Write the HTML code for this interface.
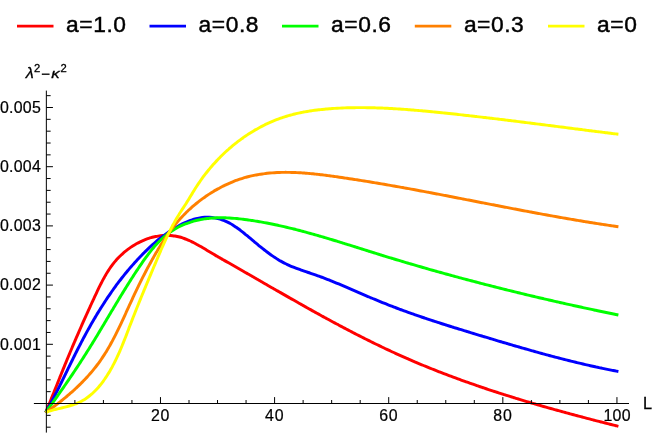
<!DOCTYPE html>
<html><head><meta charset="utf-8"><style>
html,body{margin:0;padding:0;background:#fff;}
svg{display:block;font-family:"Liberation Sans",sans-serif;}
g.t{filter:grayscale(1);}
text{fill:#000;stroke:#000;stroke-width:0.3px;}
text.lg{stroke-width:0.45px;}
text.tk{stroke-width:0.22px;}
</style></head><body>
<svg width="654" height="436" viewBox="0 0 654 436">
<rect width="654" height="436" fill="#fff"/>
<path d="M45.70,412.50C45.86,412.12 46.33,410.97 46.65,410.20C46.96,409.44 47.28,408.67 47.59,407.90C47.91,407.13 48.22,406.36 48.54,405.59C48.85,404.82 49.16,404.05 49.48,403.28C49.79,402.51 50.10,401.73 50.42,400.96C50.73,400.19 51.04,399.42 51.35,398.64C51.67,397.87 51.98,397.09 52.29,396.32C52.60,395.54 52.91,394.77 53.22,393.99C53.53,393.22 53.85,392.44 54.16,391.66C54.47,390.89 54.78,390.11 55.09,389.33C55.40,388.56 55.71,387.78 56.02,387.00C56.33,386.23 56.64,385.45 56.95,384.67C57.26,383.90 57.58,383.12 57.89,382.34C58.20,381.57 58.51,380.79 58.82,380.01C59.13,379.24 59.44,378.46 59.75,377.68C60.06,376.91 60.37,376.13 60.69,375.36C61.00,374.58 61.31,373.81 61.62,373.03C61.93,372.26 62.25,371.48 62.56,370.71C62.87,369.93 63.18,369.16 63.50,368.39C63.81,367.62 64.12,366.84 64.44,366.07C64.75,365.30 65.07,364.53 65.38,363.76C65.70,362.99 66.01,362.22 66.33,361.45C66.64,360.68 66.96,359.92 67.27,359.15C67.59,358.38 67.91,357.62 68.23,356.85C68.54,356.09 68.86,355.32 69.18,354.56C69.50,353.79 69.82,353.03 70.14,352.27C70.46,351.50 70.78,350.74 71.10,349.98C71.42,349.22 71.74,348.46 72.06,347.70C72.38,346.94 72.70,346.17 73.03,345.42C73.35,344.66 73.67,343.90 74.00,343.14C74.32,342.38 74.65,341.62 74.97,340.86C75.30,340.10 75.62,339.34 75.95,338.59C76.28,337.83 76.60,337.07 76.93,336.31C77.26,335.56 77.59,334.80 77.92,334.04C78.24,333.29 78.57,332.53 78.90,331.77C79.23,331.02 79.57,330.26 79.90,329.50C80.23,328.75 80.56,327.99 80.90,327.23C81.23,326.48 81.56,325.72 81.90,324.96C82.23,324.21 82.57,323.45 82.90,322.69C83.24,321.94 83.58,321.18 83.91,320.42C84.25,319.67 84.59,318.91 84.93,318.15C85.27,317.40 85.61,316.64 85.95,315.88C86.29,315.12 86.63,314.37 86.97,313.61C87.32,312.85 87.66,312.09 88.00,311.33C88.35,310.57 88.69,309.82 89.04,309.06C89.38,308.30 89.73,307.54 90.08,306.78C90.43,306.02 90.77,305.26 91.12,304.49C91.47,303.73 91.82,302.97 92.17,302.21C92.52,301.45 92.88,300.68 93.23,299.92C93.58,299.16 93.94,298.39 94.29,297.63C94.65,296.86 95.00,296.10 95.36,295.33C95.72,294.57 96.07,293.80 96.43,293.03C96.79,292.27 97.15,291.50 97.52,290.73C97.88,289.97 98.24,289.20 98.61,288.44C98.98,287.67 99.35,286.91 99.73,286.15C100.10,285.39 100.48,284.63 100.86,283.87C101.25,283.11 101.63,282.35 102.03,281.60C102.42,280.85 102.82,280.10 103.22,279.35C103.62,278.61 104.03,277.87 104.44,277.13C104.86,276.39 105.28,275.65 105.70,274.93C106.13,274.20 106.57,273.47 107.01,272.75C107.45,272.03 107.90,271.32 108.36,270.61C108.81,269.90 109.28,269.20 109.75,268.50C110.23,267.81 110.71,267.12 111.20,266.43C111.69,265.75 112.20,265.08 112.71,264.41C113.22,263.74 113.74,263.08 114.28,262.43C114.81,261.78 115.35,261.13 115.91,260.50C116.46,259.87 117.03,259.24 117.60,258.62C118.18,258.01 118.76,257.40 119.36,256.80C119.95,256.20 120.56,255.61 121.17,255.04C121.78,254.46 122.41,253.89 123.04,253.33C123.67,252.77 124.31,252.22 124.96,251.69C125.61,251.15 126.27,250.62 126.93,250.11C127.60,249.59 128.27,249.09 128.95,248.59C129.63,248.10 130.32,247.62 131.01,247.15C131.70,246.68 132.41,246.22 133.11,245.78C133.82,245.33 134.54,244.90 135.26,244.48C135.98,244.06 136.70,243.65 137.43,243.26C138.17,242.87 138.90,242.48 139.65,242.12C140.39,241.75 141.14,241.39 141.89,241.05C142.64,240.71 143.40,240.39 144.16,240.08C144.92,239.76 145.68,239.47 146.45,239.18C147.22,238.90 147.99,238.63 148.77,238.38C149.54,238.13 150.32,237.89 151.10,237.66C151.88,237.44 152.67,237.23 153.45,237.04C154.24,236.85 155.03,236.68 155.82,236.52C156.61,236.36 157.40,236.22 158.20,236.09C158.99,235.96 159.79,235.85 160.58,235.76C161.38,235.67 162.17,235.59 162.97,235.54C163.77,235.48 164.57,235.44 165.37,235.42C166.16,235.39 166.96,235.39 167.76,235.40C168.56,235.42 169.35,235.45 170.15,235.50C170.94,235.55 171.74,235.62 172.53,235.71C173.33,235.80 174.12,235.90 174.91,236.03C175.70,236.16 176.49,236.30 177.27,236.47C178.06,236.64 178.84,236.82 179.62,237.03C180.40,237.23 181.18,237.46 181.96,237.71C182.73,237.95 183.51,238.21 184.28,238.49C185.05,238.77 185.82,239.07 186.58,239.38C187.35,239.69 188.11,240.02 188.87,240.35C189.64,240.69 190.39,241.05 191.15,241.41C191.91,241.77 192.66,242.15 193.42,242.53C194.17,242.92 194.92,243.31 195.67,243.72C196.42,244.12 197.17,244.53 197.91,244.95C198.66,245.36 199.40,245.79 200.15,246.22C200.89,246.64 201.63,247.08 202.37,247.51C203.11,247.95 203.85,248.39 204.58,248.83C205.32,249.27 206.06,249.71 206.79,250.16C207.53,250.60 208.26,251.04 208.99,251.48C209.72,251.92 210.45,252.36 211.19,252.79C211.92,253.22 212.64,253.66 213.37,254.08C214.10,254.51 214.83,254.94 215.56,255.36C216.28,255.79 217.01,256.21 217.73,256.63C218.46,257.05 219.18,257.47 219.91,257.88C220.63,258.30 221.36,258.71 222.08,259.13C222.80,259.54 223.53,259.95 224.25,260.37C224.97,260.78 225.69,261.19 226.41,261.60C227.14,262.01 227.86,262.42 228.58,262.83C229.30,263.24 230.02,263.65 230.74,264.06C231.47,264.47 232.19,264.89 232.91,265.30C233.63,265.71 234.35,266.12 235.07,266.53C235.79,266.94 236.51,267.36 237.24,267.77C237.96,268.18 238.68,268.59 239.40,269.01C240.12,269.42 240.84,269.83 241.56,270.25C242.28,270.66 243.00,271.07 243.72,271.49C244.45,271.90 245.17,272.31 245.89,272.73C246.61,273.14 247.33,273.56 248.05,273.97C248.77,274.38 249.49,274.80 250.21,275.21C250.93,275.63 251.66,276.04 252.38,276.46C253.10,276.87 253.82,277.29 254.54,277.70C255.26,278.12 255.98,278.53 256.70,278.95C257.42,279.36 258.15,279.78 258.87,280.19C259.59,280.61 260.31,281.02 261.03,281.44C261.75,281.86 262.47,282.27 263.19,282.69C263.92,283.10 264.64,283.52 265.36,283.93C266.08,284.35 266.80,284.76 267.52,285.18C268.25,285.59 268.97,286.01 269.69,286.42C270.41,286.84 271.13,287.26 271.86,287.67C272.58,288.09 273.30,288.50 274.02,288.92C274.74,289.33 275.47,289.75 276.19,290.16C276.91,290.57 277.63,290.99 278.36,291.40C279.08,291.82 279.80,292.23 280.53,292.65C281.25,293.06 281.97,293.48 282.70,293.89C283.42,294.30 284.14,294.72 284.87,295.13C285.59,295.54 286.31,295.96 287.04,296.37C287.76,296.78 288.48,297.20 289.21,297.61C289.93,298.02 290.66,298.44 291.38,298.85C292.11,299.26 292.83,299.67 293.55,300.08C294.28,300.50 295.00,300.91 295.73,301.32C296.45,301.73 297.18,302.14 297.91,302.55C298.63,302.96 299.36,303.37 300.08,303.78C300.81,304.19 301.53,304.60 302.26,305.01C302.99,305.42 303.71,305.83 304.44,306.24C305.17,306.65 305.89,307.05 306.62,307.46C307.35,307.87 308.08,308.28 308.80,308.68C309.53,309.09 310.26,309.50 310.99,309.90C311.71,310.31 312.44,310.72 313.17,311.12C313.90,311.53 314.63,311.93 315.36,312.34C316.09,312.74 316.81,313.15 317.54,313.55C318.27,313.95 319.00,314.36 319.73,314.76C320.46,315.16 321.19,315.56 321.92,315.96C322.65,316.37 323.39,316.77 324.12,317.17C324.85,317.57 325.58,317.97 326.31,318.37C327.04,318.77 327.77,319.16 328.51,319.56C329.24,319.96 329.97,320.36 330.70,320.76C331.44,321.15 332.17,321.55 332.90,321.94C333.64,322.34 334.37,322.74 335.10,323.13C335.84,323.52 336.57,323.92 337.31,324.31C338.04,324.71 338.78,325.10 339.51,325.49C340.25,325.88 340.98,326.27 341.72,326.66C342.46,327.05 343.19,327.44 343.93,327.83C344.67,328.22 345.40,328.61 346.14,329.00C346.88,329.39 347.62,329.77 348.35,330.16C349.09,330.54 349.83,330.93 350.57,331.31C351.31,331.70 352.05,332.08 352.79,332.47C353.53,332.85 354.27,333.23 355.01,333.61C355.75,333.99 356.49,334.38 357.23,334.76C357.97,335.13 358.71,335.51 359.46,335.89C360.20,336.27 360.94,336.65 361.68,337.02C362.43,337.40 363.17,337.78 363.91,338.15C364.66,338.52 365.40,338.90 366.15,339.27C366.89,339.64 367.63,340.02 368.38,340.39C369.13,340.76 369.87,341.13 370.62,341.50C371.36,341.87 372.11,342.23 372.86,342.60C373.60,342.97 374.35,343.33 375.10,343.70C375.85,344.06 376.60,344.43 377.35,344.79C378.10,345.16 378.84,345.52 379.59,345.88C380.34,346.24 381.10,346.60 381.85,346.96C382.60,347.32 383.35,347.68 384.10,348.03C384.85,348.39 385.60,348.75 386.36,349.10C387.11,349.46 387.86,349.81 388.62,350.16C389.37,350.51 390.13,350.87 390.88,351.22C391.64,351.57 392.39,351.92 393.15,352.26C393.90,352.61 394.66,352.96 395.42,353.30C396.17,353.65 396.93,353.99 397.69,354.34C398.45,354.68 399.21,355.02 399.96,355.36C400.72,355.71 401.48,356.05 402.24,356.38C403.00,356.72 403.76,357.06 404.53,357.40C405.29,357.73 406.05,358.07 406.81,358.40C407.57,358.74 408.34,359.07 409.10,359.40C409.86,359.73 410.63,360.06 411.39,360.39C412.16,360.72 412.92,361.05 413.69,361.37C414.45,361.70 415.22,362.03 415.98,362.35C416.75,362.68 417.52,363.00 418.28,363.32C419.05,363.64 419.82,363.97 420.59,364.29C421.36,364.61 422.13,364.92 422.90,365.24C423.66,365.56 424.43,365.88 425.21,366.19C425.98,366.51 426.75,366.82 427.52,367.14C428.29,367.45 429.06,367.76 429.83,368.07C430.61,368.38 431.38,368.69 432.15,369.00C432.92,369.31 433.70,369.62 434.47,369.93C435.25,370.23 436.02,370.54 436.80,370.84C437.57,371.15 438.35,371.45 439.12,371.76C439.90,372.06 440.67,372.36 441.45,372.66C442.23,372.96 443.00,373.26 443.78,373.56C444.56,373.86 445.34,374.16 446.12,374.45C446.89,374.75 447.67,375.04 448.45,375.34C449.23,375.63 450.01,375.93 450.79,376.22C451.57,376.51 452.35,376.80 453.13,377.09C453.91,377.38 454.69,377.67 455.48,377.96C456.26,378.25 457.04,378.54 457.82,378.82C458.60,379.11 459.39,379.40 460.17,379.68C460.95,379.97 461.74,380.25 462.52,380.53C463.31,380.82 464.09,381.10 464.87,381.38C465.66,381.66 466.44,381.94 467.23,382.22C468.02,382.50 468.80,382.78 469.59,383.05C470.37,383.33 471.16,383.61 471.95,383.88C472.73,384.16 473.52,384.43 474.31,384.70C475.10,384.98 475.88,385.25 476.67,385.52C477.46,385.79 478.25,386.07 479.04,386.34C479.83,386.61 480.62,386.87 481.41,387.14C482.19,387.41 482.98,387.68 483.77,387.94C484.57,388.21 485.36,388.48 486.15,388.74C486.94,389.01 487.73,389.27 488.52,389.53C489.31,389.80 490.10,390.06 490.89,390.32C491.69,390.58 492.48,390.84 493.27,391.10C494.06,391.36 494.86,391.62 495.65,391.88C496.44,392.14 497.24,392.39 498.03,392.65C498.82,392.91 499.62,393.16 500.41,393.42C501.21,393.67 502.00,393.93 502.80,394.18C503.59,394.43 504.39,394.69 505.18,394.94C505.98,395.19 506.77,395.44 507.57,395.69C508.36,395.94 509.16,396.19 509.96,396.44C510.75,396.69 511.55,396.94 512.35,397.18C513.14,397.43 513.94,397.68 514.74,397.92C515.54,398.17 516.33,398.41 517.13,398.66C517.93,398.90 518.73,399.15 519.53,399.39C520.32,399.63 521.12,399.87 521.92,400.11C522.72,400.36 523.52,400.60 524.32,400.84C525.12,401.08 525.92,401.32 526.72,401.55C527.52,401.79 528.31,402.03 529.11,402.27C529.91,402.51 530.71,402.74 531.52,402.98C532.32,403.21 533.12,403.45 533.92,403.68C534.72,403.92 535.52,404.15 536.32,404.39C537.12,404.62 537.92,404.85 538.72,405.08C539.52,405.32 540.33,405.55 541.13,405.78C541.93,406.01 542.73,406.24 543.53,406.47C544.34,406.70 545.14,406.93 545.94,407.15C546.74,407.38 547.54,407.61 548.35,407.84C549.15,408.06 549.95,408.29 550.76,408.52C551.56,408.74 552.36,408.97 553.17,409.19C553.97,409.42 554.77,409.64 555.58,409.86C556.38,410.09 557.18,410.31 557.99,410.53C558.79,410.76 559.59,410.98 560.40,411.20C561.20,411.42 562.01,411.64 562.81,411.86C563.61,412.08 564.42,412.30 565.22,412.52C566.03,412.74 566.83,412.96 567.64,413.18C568.44,413.39 569.25,413.61 570.05,413.83C570.85,414.05 571.66,414.26 572.46,414.48C573.27,414.69 574.07,414.91 574.88,415.12C575.68,415.34 576.49,415.55 577.30,415.77C578.10,415.98 578.91,416.20 579.71,416.41C580.52,416.62 581.32,416.83 582.13,417.05C582.93,417.26 583.74,417.47 584.54,417.68C585.35,417.89 586.16,418.10 586.96,418.31C587.77,418.52 588.57,418.73 589.38,418.94C590.18,419.15 590.99,419.36 591.80,419.57C592.60,419.78 593.41,419.99 594.21,420.20C595.02,420.40 595.83,420.61 596.63,420.82C597.44,421.02 598.24,421.23 599.05,421.44C599.85,421.64 600.66,421.85 601.47,422.05C602.27,422.26 603.08,422.46 603.88,422.67C604.69,422.87 605.50,423.08 606.30,423.28C607.11,423.48 607.91,423.69 608.72,423.89C609.53,424.09 610.33,424.30 611.14,424.50C611.94,424.70 612.75,424.90 613.56,425.11C614.36,425.31 615.17,425.51 615.97,425.71C616.78,425.91 617.99,426.21 618.39,426.31" fill="none" stroke="#ff0000" stroke-width="2.95" stroke-linejoin="round"/>
<path d="M45.70,412.50C45.90,412.14 46.52,411.06 46.92,410.33C47.32,409.61 47.73,408.88 48.13,408.15C48.53,407.43 48.92,406.70 49.32,405.97C49.72,405.24 50.11,404.51 50.50,403.77C50.89,403.04 51.28,402.31 51.67,401.57C52.06,400.84 52.45,400.10 52.83,399.36C53.22,398.63 53.60,397.89 53.99,397.15C54.37,396.41 54.75,395.67 55.13,394.93C55.51,394.19 55.89,393.44 56.26,392.70C56.64,391.96 57.02,391.21 57.39,390.47C57.77,389.72 58.14,388.98 58.51,388.23C58.88,387.49 59.26,386.74 59.63,385.99C60.00,385.24 60.37,384.50 60.74,383.75C61.11,383.00 61.48,382.25 61.84,381.50C62.21,380.75 62.58,380.00 62.95,379.25C63.32,378.50 63.68,377.75 64.05,377.00C64.42,376.25 64.78,375.50 65.15,374.75C65.51,374.00 65.88,373.24 66.25,372.49C66.61,371.74 66.98,370.99 67.34,370.24C67.71,369.49 68.08,368.74 68.44,367.98C68.81,367.23 69.17,366.48 69.54,365.73C69.91,364.98 70.27,364.23 70.64,363.48C71.01,362.73 71.38,361.98 71.75,361.23C72.11,360.48 72.48,359.73 72.85,358.98C73.22,358.23 73.59,357.48 73.96,356.73C74.34,355.98 74.71,355.23 75.08,354.49C75.45,353.74 75.83,352.99 76.20,352.25C76.58,351.50 76.96,350.75 77.33,350.01C77.71,349.26 78.09,348.52 78.47,347.78C78.85,347.03 79.23,346.29 79.61,345.55C80.00,344.81 80.38,344.07 80.77,343.33C81.15,342.59 81.54,341.85 81.93,341.11C82.31,340.37 82.70,339.64 83.09,338.90C83.48,338.16 83.88,337.43 84.27,336.69C84.66,335.96 85.06,335.23 85.46,334.49C85.85,333.76 86.25,333.03 86.65,332.30C87.05,331.57 87.45,330.84 87.86,330.11C88.26,329.38 88.66,328.66 89.07,327.93C89.48,327.20 89.89,326.48 90.30,325.76C90.71,325.03 91.12,324.31 91.53,323.59C91.94,322.87 92.36,322.15 92.78,321.43C93.19,320.71 93.61,319.99 94.03,319.27C94.45,318.56 94.87,317.84 95.30,317.13C95.72,316.41 96.15,315.70 96.58,314.99C97.00,314.28 97.43,313.57 97.87,312.86C98.30,312.15 98.73,311.44 99.17,310.73C99.60,310.03 100.04,309.32 100.48,308.62C100.92,307.92 101.36,307.21 101.81,306.51C102.25,305.81 102.70,305.11 103.14,304.42C103.59,303.72 104.04,303.02 104.50,302.33C104.95,301.63 105.40,300.94 105.86,300.25C106.32,299.56 106.78,298.87 107.24,298.18C107.70,297.49 108.16,296.80 108.63,296.12C109.09,295.43 109.56,294.75 110.03,294.07C110.50,293.39 110.98,292.71 111.45,292.03C111.93,291.35 112.41,290.67 112.89,290.00C113.37,289.32 113.85,288.65 114.33,287.98C114.82,287.31 115.31,286.64 115.80,285.97C116.29,285.30 116.78,284.63 117.28,283.97C117.77,283.30 118.27,282.64 118.77,281.98C119.27,281.32 119.77,280.66 120.28,280.00C120.79,279.35 121.29,278.69 121.81,278.04C122.32,277.39 122.83,276.74 123.35,276.09C123.86,275.44 124.38,274.79 124.90,274.14C125.43,273.50 125.95,272.86 126.48,272.21C127.01,271.57 127.54,270.93 128.07,270.30C128.61,269.66 129.14,269.02 129.68,268.39C130.22,267.76 130.76,267.13 131.31,266.50C131.85,265.87 132.40,265.24 132.95,264.62C133.50,263.99 134.06,263.37 134.61,262.75C135.17,262.13 135.73,261.51 136.30,260.90C136.86,260.28 137.42,259.67 137.99,259.06C138.56,258.45 139.14,257.84 139.71,257.23C140.29,256.62 140.87,256.02 141.45,255.42C142.03,254.82 142.62,254.22 143.21,253.62C143.80,253.03 144.39,252.43 144.98,251.84C145.58,251.25 146.18,250.66 146.78,250.08C147.38,249.50 147.99,248.92 148.60,248.34C149.21,247.76 149.83,247.19 150.44,246.62C151.06,246.05 151.68,245.48 152.31,244.92C152.93,244.36 153.56,243.80 154.19,243.25C154.83,242.70 155.47,242.15 156.11,241.61C156.75,241.06 157.39,240.52 158.04,239.99C158.69,239.45 159.35,238.93 160.00,238.40C160.66,237.88 161.32,237.36 161.99,236.85C162.66,236.33 163.33,235.82 164.00,235.32C164.68,234.82 165.36,234.32 166.04,233.83C166.73,233.34 167.42,232.86 168.11,232.38C168.81,231.90 169.50,231.43 170.21,230.97C170.91,230.50 171.62,230.04 172.33,229.59C173.05,229.14 173.76,228.70 174.49,228.26C175.21,227.82 175.94,227.39 176.67,226.97C177.41,226.54 178.14,226.13 178.89,225.72C179.63,225.31 180.38,224.91 181.13,224.52C181.88,224.13 182.64,223.75 183.40,223.39C184.16,223.02 184.93,222.66 185.70,222.32C186.47,221.98 187.24,221.64 188.02,221.33C188.79,221.01 189.57,220.71 190.36,220.43C191.14,220.14 191.93,219.87 192.71,219.62C193.50,219.37 194.29,219.13 195.09,218.92C195.88,218.70 196.68,218.51 197.47,218.33C198.27,218.16 199.07,218.00 199.87,217.87C200.67,217.74 201.48,217.63 202.28,217.54C203.08,217.45 203.89,217.38 204.69,217.34C205.49,217.30 206.30,217.28 207.10,217.28C207.90,217.28 208.71,217.30 209.51,217.34C210.31,217.39 211.11,217.45 211.91,217.54C212.71,217.62 213.50,217.73 214.29,217.86C215.09,217.99 215.88,218.14 216.66,218.31C217.45,218.48 218.23,218.67 219.01,218.88C219.79,219.10 220.56,219.33 221.33,219.58C222.09,219.84 222.86,220.11 223.61,220.40C224.37,220.70 225.12,221.01 225.87,221.34C226.61,221.68 227.35,222.03 228.08,222.40C228.81,222.77 229.54,223.16 230.26,223.56C230.98,223.96 231.70,224.38 232.41,224.82C233.12,225.25 233.83,225.70 234.53,226.16C235.23,226.62 235.93,227.09 236.62,227.57C237.32,228.06 238.00,228.55 238.69,229.05C239.38,229.56 240.06,230.07 240.74,230.59C241.41,231.11 242.09,231.64 242.76,232.17C243.43,232.70 244.10,233.24 244.77,233.78C245.44,234.32 246.10,234.87 246.76,235.42C247.43,235.97 248.09,236.52 248.74,237.07C249.40,237.62 250.06,238.17 250.72,238.72C251.37,239.28 252.03,239.83 252.68,240.38C253.33,240.92 253.99,241.47 254.64,242.02C255.29,242.56 255.94,243.11 256.60,243.65C257.25,244.19 257.90,244.73 258.55,245.27C259.21,245.80 259.86,246.34 260.51,246.87C261.17,247.40 261.82,247.92 262.48,248.45C263.14,248.97 263.79,249.49 264.45,250.00C265.11,250.51 265.77,251.02 266.43,251.53C267.10,252.03 267.76,252.53 268.43,253.02C269.10,253.52 269.76,254.00 270.44,254.48C271.11,254.97 271.79,255.44 272.46,255.91C273.14,256.38 273.82,256.84 274.51,257.29C275.20,257.74 275.89,258.19 276.58,258.63C277.27,259.07 277.97,259.50 278.67,259.92C279.37,260.34 280.08,260.76 280.79,261.16C281.50,261.57 282.22,261.96 282.94,262.35C283.67,262.73 284.39,263.11 285.13,263.48C285.86,263.84 286.60,264.20 287.34,264.55C288.08,264.89 288.83,265.23 289.59,265.56C290.34,265.89 291.10,266.21 291.86,266.53C292.62,266.85 293.39,267.15 294.16,267.46C294.93,267.76 295.70,268.05 296.48,268.35C297.25,268.64 298.03,268.92 298.81,269.21C299.60,269.49 300.38,269.77 301.17,270.04C301.95,270.32 302.74,270.59 303.53,270.86C304.32,271.14 305.11,271.40 305.90,271.67C306.69,271.94 307.48,272.21 308.27,272.48C309.07,272.74 309.86,273.01 310.65,273.28C311.44,273.55 312.23,273.82 313.03,274.09C313.82,274.36 314.61,274.64 315.40,274.92C316.18,275.19 316.97,275.47 317.76,275.76C318.54,276.04 319.33,276.33 320.11,276.61C320.90,276.90 321.68,277.19 322.46,277.49C323.24,277.78 324.02,278.08 324.80,278.38C325.58,278.68 326.36,278.98 327.14,279.28C327.92,279.58 328.69,279.89 329.47,280.20C330.25,280.50 331.02,280.81 331.79,281.12C332.57,281.44 333.34,281.75 334.11,282.06C334.89,282.38 335.66,282.70 336.43,283.01C337.20,283.33 337.97,283.65 338.74,283.97C339.51,284.29 340.28,284.61 341.05,284.94C341.82,285.26 342.59,285.59 343.35,285.91C344.12,286.24 344.89,286.56 345.66,286.89C346.42,287.22 347.19,287.55 347.96,287.87C348.72,288.20 349.49,288.53 350.25,288.86C351.02,289.19 351.78,289.52 352.55,289.85C353.31,290.18 354.08,290.52 354.84,290.85C355.61,291.18 356.37,291.51 357.14,291.84C357.90,292.17 358.67,292.50 359.43,292.84C360.20,293.17 360.96,293.50 361.72,293.83C362.49,294.16 363.25,294.49 364.02,294.82C364.78,295.15 365.55,295.48 366.31,295.81C367.08,296.14 367.84,296.47 368.61,296.79C369.38,297.12 370.14,297.45 370.91,297.77C371.68,298.10 372.44,298.42 373.21,298.75C373.98,299.07 374.74,299.39 375.51,299.71C376.28,300.03 377.05,300.35 377.82,300.67C378.59,300.99 379.36,301.31 380.13,301.62C380.90,301.94 381.67,302.25 382.44,302.56C383.21,302.87 383.98,303.18 384.76,303.49C385.53,303.80 386.30,304.11 387.08,304.41C387.85,304.72 388.62,305.02 389.40,305.32C390.18,305.63 390.95,305.93 391.73,306.23C392.50,306.53 393.28,306.82 394.06,307.12C394.83,307.42 395.61,307.71 396.39,308.00C397.17,308.30 397.95,308.59 398.73,308.88C399.51,309.17 400.29,309.46 401.07,309.75C401.85,310.04 402.63,310.32 403.41,310.61C404.19,310.90 404.97,311.18 405.76,311.46C406.54,311.75 407.32,312.03 408.11,312.31C408.89,312.59 409.67,312.87 410.46,313.15C411.24,313.43 412.03,313.70 412.81,313.98C413.60,314.25 414.38,314.53 415.17,314.80C415.95,315.08 416.74,315.35 417.53,315.62C418.31,315.89 419.10,316.16 419.89,316.43C420.67,316.70 421.46,316.97 422.25,317.24C423.04,317.50 423.83,317.77 424.62,318.04C425.41,318.30 426.20,318.57 426.99,318.83C427.77,319.09 428.56,319.36 429.36,319.62C430.15,319.88 430.94,320.14 431.73,320.40C432.52,320.66 433.31,320.92 434.10,321.18C434.89,321.44 435.68,321.69 436.48,321.95C437.27,322.21 438.06,322.46 438.85,322.72C439.65,322.98 440.44,323.23 441.23,323.48C442.03,323.74 442.82,323.99 443.61,324.24C444.41,324.50 445.20,324.75 446.00,325.00C446.79,325.25 447.59,325.50 448.38,325.75C449.17,326.00 449.97,326.25 450.77,326.50C451.56,326.75 452.36,327.00 453.15,327.25C453.95,327.49 454.74,327.74 455.54,327.99C456.33,328.23 457.13,328.48 457.93,328.73C458.72,328.97 459.52,329.22 460.32,329.46C461.11,329.71 461.91,329.95 462.71,330.20C463.50,330.44 464.30,330.69 465.10,330.93C465.89,331.17 466.69,331.42 467.49,331.66C468.29,331.90 469.08,332.15 469.88,332.39C470.68,332.63 471.48,332.87 472.27,333.12C473.07,333.36 473.87,333.60 474.67,333.84C475.46,334.08 476.26,334.32 477.06,334.57C477.86,334.81 478.66,335.05 479.45,335.29C480.25,335.53 481.05,335.77 481.85,336.01C482.65,336.25 483.44,336.49 484.24,336.74C485.04,336.98 485.84,337.22 486.64,337.46C487.43,337.70 488.23,337.94 489.03,338.18C489.83,338.42 490.63,338.66 491.43,338.90C492.22,339.14 493.02,339.38 493.82,339.61C494.62,339.85 495.42,340.09 496.22,340.33C497.01,340.57 497.81,340.81 498.61,341.05C499.41,341.28 500.21,341.52 501.01,341.76C501.81,342.00 502.61,342.23 503.41,342.47C504.20,342.71 505.00,342.94 505.80,343.18C506.60,343.42 507.40,343.65 508.20,343.89C509.00,344.12 509.80,344.36 510.60,344.59C511.40,344.83 512.20,345.06 513.00,345.30C513.80,345.53 514.60,345.76 515.40,346.00C516.20,346.23 517.00,346.46 517.80,346.69C518.60,346.92 519.40,347.16 520.20,347.39C521.00,347.62 521.80,347.85 522.60,348.08C523.40,348.31 524.21,348.54 525.01,348.77C525.81,349.00 526.61,349.23 527.41,349.45C528.21,349.68 529.01,349.91 529.81,350.14C530.62,350.36 531.42,350.59 532.22,350.81C533.02,351.04 533.82,351.26 534.63,351.49C535.43,351.71 536.23,351.94 537.03,352.16C537.84,352.38 538.64,352.61 539.44,352.83C540.25,353.05 541.05,353.27 541.85,353.49C542.65,353.71 543.46,353.93 544.26,354.15C545.07,354.37 545.87,354.59 546.67,354.80C547.48,355.02 548.28,355.24 549.09,355.45C549.89,355.67 550.70,355.89 551.50,356.10C552.30,356.31 553.11,356.53 553.92,356.74C554.72,356.95 555.53,357.17 556.33,357.38C557.14,357.59 557.94,357.80 558.75,358.01C559.56,358.22 560.36,358.43 561.17,358.63C561.97,358.84 562.78,359.05 563.59,359.25C564.40,359.46 565.20,359.67 566.01,359.87C566.82,360.07 567.62,360.28 568.43,360.48C569.24,360.68 570.05,360.88 570.86,361.08C571.67,361.28 572.47,361.48 573.28,361.68C574.09,361.88 574.90,362.08 575.71,362.27C576.52,362.47 577.33,362.66 578.14,362.86C578.95,363.05 579.76,363.25 580.57,363.44C581.38,363.63 582.19,363.82 583.00,364.01C583.81,364.20 584.62,364.39 585.44,364.58C586.25,364.77 587.06,364.95 587.87,365.14C588.68,365.32 589.50,365.51 590.31,365.69C591.12,365.87 591.93,366.06 592.75,366.24C593.56,366.42 594.37,366.60 595.19,366.78C596.00,366.95 596.82,367.13 597.63,367.31C598.45,367.48 599.26,367.66 600.08,367.83C600.89,368.01 601.71,368.18 602.52,368.35C603.34,368.52 604.15,368.69 604.97,368.86C605.79,369.03 606.60,369.19 607.42,369.36C608.24,369.53 609.06,369.69 609.87,369.85C610.69,370.02 611.51,370.18 612.33,370.34C613.15,370.50 613.77,370.62 614.78,370.82C615.80,371.01 617.80,371.39 618.40,371.50" fill="none" stroke="#0000ff" stroke-width="2.95" stroke-linejoin="round"/>
<path d="M45.70,412.50C45.94,412.16 46.67,411.16 47.15,410.49C47.64,409.81 48.12,409.14 48.60,408.47C49.09,407.79 49.57,407.12 50.05,406.44C50.54,405.77 51.02,405.09 51.50,404.42C51.98,403.74 52.47,403.06 52.95,402.39C53.43,401.71 53.91,401.03 54.39,400.35C54.87,399.67 55.35,399.00 55.83,398.32C56.31,397.64 56.79,396.96 57.27,396.28C57.75,395.59 58.23,394.91 58.71,394.23C59.19,393.55 59.66,392.87 60.14,392.18C60.62,391.50 61.10,390.82 61.57,390.13C62.05,389.45 62.52,388.76 63.00,388.08C63.47,387.39 63.95,386.71 64.42,386.02C64.90,385.33 65.37,384.65 65.84,383.96C66.31,383.27 66.79,382.58 67.26,381.89C67.73,381.21 68.20,380.52 68.67,379.83C69.14,379.14 69.61,378.45 70.08,377.76C70.54,377.06 71.01,376.37 71.48,375.68C71.95,374.99 72.41,374.30 72.88,373.60C73.34,372.91 73.81,372.22 74.27,371.52C74.73,370.83 75.20,370.13 75.66,369.44C76.12,368.74 76.58,368.05 77.04,367.35C77.50,366.65 77.96,365.95 78.42,365.26C78.87,364.56 79.33,363.86 79.79,363.16C80.24,362.46 80.70,361.76 81.15,361.06C81.61,360.36 82.06,359.66 82.51,358.96C82.96,358.26 83.41,357.56 83.86,356.86C84.31,356.16 84.76,355.45 85.21,354.75C85.66,354.05 86.10,353.34 86.55,352.64C86.99,351.94 87.44,351.23 87.88,350.53C88.32,349.82 88.77,349.12 89.21,348.41C89.65,347.70 90.09,347.00 90.53,346.29C90.96,345.58 91.40,344.87 91.84,344.17C92.27,343.46 92.71,342.75 93.14,342.04C93.58,341.33 94.01,340.62 94.44,339.91C94.88,339.20 95.31,338.49 95.74,337.78C96.17,337.07 96.60,336.36 97.03,335.65C97.46,334.94 97.89,334.23 98.32,333.51C98.75,332.80 99.18,332.09 99.60,331.38C100.03,330.67 100.46,329.95 100.88,329.24C101.31,328.53 101.74,327.81 102.16,327.10C102.59,326.39 103.01,325.68 103.44,324.96C103.86,324.25 104.29,323.53 104.71,322.82C105.14,322.11 105.56,321.39 105.99,320.68C106.41,319.97 106.84,319.25 107.26,318.54C107.69,317.82 108.11,317.11 108.53,316.39C108.96,315.68 109.38,314.97 109.81,314.25C110.23,313.54 110.66,312.82 111.08,312.11C111.51,311.39 111.93,310.68 112.36,309.97C112.78,309.25 113.21,308.54 113.64,307.82C114.06,307.11 114.49,306.40 114.92,305.68C115.34,304.97 115.77,304.26 116.20,303.54C116.63,302.83 117.06,302.12 117.49,301.40C117.91,300.69 118.34,299.98 118.78,299.26C119.21,298.55 119.64,297.84 120.07,297.13C120.50,296.42 120.94,295.70 121.37,294.99C121.80,294.28 122.24,293.57 122.67,292.86C123.11,292.15 123.55,291.44 123.98,290.73C124.42,290.02 124.86,289.31 125.30,288.60C125.74,287.89 126.18,287.18 126.62,286.47C127.07,285.76 127.51,285.05 127.95,284.35C128.40,283.64 128.84,282.93 129.29,282.23C129.74,281.52 130.19,280.81 130.64,280.11C131.09,279.40 131.54,278.70 131.99,277.99C132.45,277.29 132.90,276.58 133.36,275.88C133.81,275.18 134.27,274.47 134.73,273.77C135.19,273.07 135.65,272.37 136.11,271.67C136.58,270.96 137.04,270.26 137.51,269.56C137.98,268.86 138.44,268.17 138.91,267.47C139.38,266.77 139.86,266.07 140.33,265.37C140.81,264.68 141.28,263.98 141.76,263.29C142.24,262.59 142.72,261.90 143.21,261.21C143.69,260.52 144.18,259.83 144.67,259.14C145.16,258.46 145.65,257.77 146.15,257.09C146.64,256.41 147.14,255.73 147.65,255.06C148.15,254.39 148.66,253.72 149.17,253.05C149.68,252.39 150.20,251.73 150.72,251.07C151.24,250.42 151.77,249.77 152.30,249.12C152.83,248.48 153.37,247.84 153.91,247.21C154.45,246.57 155.00,245.95 155.55,245.33C156.11,244.71 156.66,244.10 157.23,243.49C157.80,242.89 158.37,242.29 158.94,241.70C159.52,241.11 160.11,240.53 160.70,239.96C161.29,239.38 161.89,238.82 162.49,238.27C163.10,237.71 163.71,237.17 164.33,236.63C164.95,236.10 165.58,235.57 166.22,235.06C166.85,234.54 167.50,234.04 168.15,233.55C168.80,233.05 169.47,232.57 170.14,232.10C170.81,231.63 171.49,231.17 172.17,230.73C172.86,230.28 173.56,229.85 174.26,229.43C174.97,229.00 175.68,228.59 176.40,228.20C177.12,227.80 177.84,227.41 178.58,227.04C179.31,226.66 180.05,226.30 180.80,225.95C181.55,225.60 182.30,225.26 183.06,224.93C183.82,224.60 184.58,224.28 185.35,223.98C186.12,223.68 186.90,223.38 187.68,223.10C188.46,222.82 189.24,222.55 190.03,222.29C190.82,222.04 191.61,221.79 192.41,221.56C193.20,221.32 194.00,221.10 194.81,220.89C195.61,220.67 196.41,220.47 197.22,220.29C198.03,220.10 198.84,219.92 199.65,219.76C200.46,219.59 201.28,219.44 202.09,219.29C202.91,219.15 203.73,219.02 204.54,218.90C205.36,218.77 206.18,218.66 207.01,218.56C207.83,218.46 208.65,218.37 209.47,218.29C210.30,218.21 211.12,218.14 211.95,218.08C212.78,218.02 213.61,217.96 214.43,217.92C215.26,217.88 216.09,217.84 216.92,217.82C217.75,217.79 218.59,217.77 219.42,217.76C220.25,217.75 221.08,217.75 221.92,217.76C222.75,217.76 223.59,217.78 224.42,217.80C225.26,217.82 226.09,217.85 226.93,217.88C227.76,217.92 228.60,217.96 229.44,218.01C230.27,218.05 231.11,218.11 231.94,218.17C232.78,218.23 233.62,218.29 234.46,218.36C235.29,218.43 236.13,218.51 236.97,218.59C237.80,218.67 238.64,218.76 239.47,218.85C240.31,218.94 241.15,219.04 241.98,219.14C242.82,219.24 243.65,219.34 244.49,219.45C245.32,219.56 246.15,219.67 246.99,219.78C247.82,219.90 248.65,220.02 249.48,220.14C250.32,220.26 251.15,220.38 251.98,220.51C252.81,220.63 253.64,220.76 254.46,220.89C255.29,221.03 256.12,221.16 256.95,221.30C257.77,221.43 258.60,221.57 259.42,221.72C260.25,221.86 261.07,222.00 261.90,222.15C262.72,222.30 263.54,222.45 264.37,222.60C265.19,222.75 266.01,222.90 266.83,223.06C267.65,223.22 268.47,223.38 269.29,223.54C270.11,223.70 270.93,223.86 271.75,224.03C272.56,224.20 273.38,224.36 274.20,224.53C275.01,224.71 275.83,224.88 276.65,225.05C277.46,225.23 278.28,225.40 279.09,225.58C279.90,225.76 280.72,225.94 281.53,226.13C282.34,226.31 283.16,226.50 283.97,226.68C284.78,226.87 285.59,227.06 286.40,227.25C287.21,227.44 288.02,227.63 288.83,227.83C289.64,228.02 290.45,228.22 291.26,228.42C292.07,228.61 292.87,228.81 293.68,229.02C294.49,229.22 295.30,229.42 296.10,229.63C296.91,229.83 297.71,230.04 298.52,230.25C299.33,230.45 300.13,230.66 300.94,230.88C301.74,231.09 302.54,231.30 303.35,231.51C304.15,231.73 304.95,231.94 305.76,232.16C306.56,232.38 307.36,232.60 308.16,232.82C308.97,233.04 309.77,233.26 310.57,233.48C311.37,233.70 312.17,233.93 312.97,234.15C313.77,234.38 314.57,234.60 315.37,234.83C316.17,235.06 316.97,235.29 317.77,235.52C318.57,235.75 319.37,235.98 320.17,236.21C320.97,236.44 321.77,236.68 322.56,236.91C323.36,237.14 324.16,237.38 324.96,237.61C325.75,237.85 326.55,238.09 327.35,238.32C328.15,238.56 328.94,238.80 329.74,239.04C330.54,239.28 331.33,239.52 332.13,239.76C332.92,240.00 333.72,240.24 334.52,240.48C335.31,240.73 336.11,240.97 336.90,241.21C337.70,241.46 338.49,241.70 339.29,241.95C340.08,242.19 340.88,242.44 341.67,242.68C342.47,242.93 343.26,243.17 344.06,243.42C344.85,243.67 345.65,243.91 346.44,244.16C347.23,244.41 348.03,244.66 348.82,244.91C349.62,245.15 350.41,245.40 351.21,245.65C352.00,245.90 352.79,246.15 353.59,246.40C354.38,246.65 355.18,246.90 355.97,247.15C356.76,247.40 357.56,247.65 358.35,247.90C359.15,248.15 359.94,248.40 360.73,248.65C361.53,248.90 362.32,249.15 363.12,249.40C363.91,249.65 364.70,249.90 365.50,250.15C366.29,250.40 367.09,250.65 367.88,250.90C368.67,251.15 369.47,251.40 370.26,251.64C371.06,251.89 371.85,252.14 372.65,252.39C373.44,252.64 374.24,252.89 375.03,253.14C375.83,253.38 376.62,253.63 377.42,253.88C378.21,254.13 379.01,254.37 379.80,254.62C380.60,254.87 381.39,255.11 382.19,255.36C382.99,255.60 383.78,255.85 384.58,256.09C385.37,256.34 386.17,256.58 386.97,256.83C387.76,257.07 388.56,257.31 389.36,257.56C390.16,257.80 390.95,258.04 391.75,258.28C392.55,258.53 393.34,258.77 394.14,259.01C394.94,259.25 395.74,259.49 396.54,259.73C397.33,259.97 398.13,260.21 398.93,260.45C399.73,260.69 400.53,260.93 401.32,261.16C402.12,261.40 402.92,261.64 403.72,261.88C404.52,262.11 405.32,262.35 406.12,262.59C406.92,262.82 407.72,263.06 408.52,263.30C409.32,263.53 410.12,263.77 410.92,264.00C411.72,264.24 412.52,264.47 413.32,264.70C414.12,264.94 414.92,265.17 415.72,265.40C416.52,265.64 417.32,265.87 418.12,266.10C418.92,266.33 419.72,266.56 420.52,266.79C421.32,267.03 422.12,267.26 422.92,267.49C423.73,267.72 424.53,267.95 425.33,268.18C426.13,268.41 426.93,268.63 427.73,268.86C428.54,269.09 429.34,269.32 430.14,269.55C430.94,269.77 431.74,270.00 432.55,270.23C433.35,270.45 434.15,270.68 434.96,270.91C435.76,271.13 436.56,271.36 437.36,271.58C438.17,271.81 438.97,272.03 439.77,272.26C440.58,272.48 441.38,272.70 442.18,272.93C442.99,273.15 443.79,273.37 444.59,273.59C445.40,273.82 446.20,274.04 447.01,274.26C447.81,274.48 448.61,274.70 449.42,274.92C450.22,275.14 451.03,275.36 451.83,275.58C452.64,275.80 453.44,276.02 454.25,276.24C455.05,276.46 455.86,276.68 456.66,276.90C457.47,277.11 458.27,277.33 459.08,277.55C459.88,277.77 460.69,277.98 461.49,278.20C462.30,278.41 463.11,278.63 463.91,278.85C464.72,279.06 465.52,279.28 466.33,279.49C467.13,279.71 467.94,279.92 468.75,280.13C469.55,280.35 470.36,280.56 471.17,280.77C471.97,280.99 472.78,281.20 473.59,281.41C474.39,281.62 475.20,281.83 476.01,282.05C476.81,282.26 477.62,282.47 478.43,282.68C479.24,282.89 480.04,283.10 480.85,283.31C481.66,283.52 482.47,283.73 483.27,283.93C484.08,284.14 484.89,284.35 485.70,284.56C486.50,284.77 487.31,284.97 488.12,285.18C488.93,285.39 489.74,285.60 490.54,285.80C491.35,286.01 492.16,286.21 492.97,286.42C493.78,286.62 494.59,286.83 495.39,287.03C496.20,287.24 497.01,287.44 497.82,287.65C498.63,287.85 499.44,288.05 500.25,288.26C501.06,288.46 501.87,288.66 502.67,288.86C503.48,289.07 504.29,289.27 505.10,289.47C505.91,289.67 506.72,289.87 507.53,290.07C508.34,290.27 509.15,290.47 509.96,290.67C510.77,290.87 511.58,291.07 512.39,291.27C513.20,291.47 514.01,291.67 514.82,291.87C515.63,292.06 516.44,292.26 517.25,292.46C518.06,292.66 518.87,292.85 519.68,293.05C520.49,293.25 521.30,293.44 522.11,293.64C522.92,293.83 523.73,294.03 524.54,294.22C525.36,294.42 526.17,294.61 526.98,294.81C527.79,295.00 528.60,295.19 529.41,295.39C530.22,295.58 531.03,295.77 531.84,295.97C532.65,296.16 533.47,296.35 534.28,296.54C535.09,296.73 535.90,296.93 536.71,297.12C537.52,297.31 538.33,297.50 539.15,297.69C539.96,297.88 540.77,298.07 541.58,298.26C542.39,298.45 543.20,298.64 544.02,298.82C544.83,299.01 545.64,299.20 546.45,299.39C547.26,299.58 548.08,299.76 548.89,299.95C549.70,300.14 550.51,300.33 551.33,300.51C552.14,300.70 552.95,300.88 553.76,301.07C554.57,301.25 555.39,301.44 556.20,301.62C557.01,301.81 557.82,301.99 558.64,302.18C559.45,302.36 560.26,302.55 561.07,302.73C561.89,302.91 562.70,303.09 563.51,303.28C564.33,303.46 565.14,303.64 565.95,303.82C566.76,304.01 567.58,304.19 568.39,304.37C569.20,304.55 570.02,304.73 570.83,304.91C571.64,305.09 572.46,305.27 573.27,305.45C574.08,305.63 574.90,305.81 575.71,305.99C576.52,306.16 577.34,306.34 578.15,306.52C578.96,306.70 579.78,306.88 580.59,307.05C581.40,307.23 582.22,307.41 583.03,307.58C583.84,307.76 584.66,307.94 585.47,308.11C586.28,308.29 587.10,308.46 587.91,308.64C588.73,308.81 589.54,308.99 590.35,309.16C591.17,309.34 591.98,309.51 592.79,309.68C593.61,309.86 594.42,310.03 595.24,310.20C596.05,310.38 596.86,310.55 597.68,310.72C598.49,310.89 599.31,311.07 600.12,311.24C600.93,311.41 601.75,311.58 602.56,311.75C603.38,311.92 604.19,312.09 605.00,312.26C605.82,312.43 606.63,312.60 607.45,312.77C608.26,312.94 609.08,313.11 609.89,313.28C610.70,313.44 611.52,313.61 612.33,313.78C613.15,313.95 613.96,314.12 614.77,314.28C615.59,314.45 616.61,314.66 617.22,314.78C617.82,314.91 618.20,314.98 618.39,315.02" fill="none" stroke="#00ff00" stroke-width="2.95" stroke-linejoin="round"/>
<path d="M45.70,412.50C46.04,412.26 47.06,411.54 47.74,411.06C48.42,410.58 49.09,410.09 49.77,409.61C50.45,409.12 51.12,408.63 51.79,408.13C52.47,407.64 53.14,407.14 53.81,406.64C54.48,406.15 55.14,405.64 55.81,405.14C56.48,404.63 57.14,404.13 57.80,403.62C58.46,403.11 59.13,402.59 59.78,402.08C60.44,401.56 61.10,401.04 61.75,400.52C62.40,400.00 63.06,399.47 63.70,398.94C64.35,398.41 65.00,397.88 65.64,397.35C66.29,396.81 66.93,396.28 67.57,395.74C68.20,395.20 68.84,394.65 69.47,394.10C70.10,393.56 70.73,393.01 71.36,392.45C71.99,391.90 72.61,391.34 73.23,390.79C73.85,390.23 74.47,389.66 75.08,389.10C75.69,388.53 76.31,387.96 76.91,387.39C77.52,386.82 78.12,386.24 78.72,385.66C79.32,385.08 79.92,384.50 80.51,383.91C81.10,383.32 81.69,382.74 82.27,382.14C82.86,381.55 83.44,380.95 84.01,380.35C84.59,379.75 85.16,379.15 85.73,378.54C86.29,377.93 86.86,377.32 87.42,376.71C87.98,376.10 88.53,375.48 89.08,374.86C89.63,374.24 90.17,373.61 90.71,372.98C91.25,372.35 91.79,371.72 92.32,371.09C92.85,370.45 93.38,369.81 93.90,369.17C94.42,368.52 94.93,367.88 95.44,367.23C95.95,366.58 96.46,365.92 96.96,365.26C97.46,364.60 97.95,363.94 98.44,363.28C98.93,362.61 99.41,361.94 99.89,361.27C100.37,360.59 100.84,359.92 101.31,359.24C101.78,358.55 102.24,357.87 102.69,357.18C103.15,356.49 103.60,355.80 104.05,355.11C104.50,354.41 104.94,353.71 105.38,353.01C105.81,352.31 106.25,351.61 106.67,350.90C107.10,350.19 107.53,349.48 107.95,348.77C108.37,348.05 108.78,347.34 109.20,346.62C109.61,345.90 110.02,345.18 110.42,344.45C110.83,343.73 111.23,343.00 111.62,342.27C112.02,341.55 112.42,340.81 112.81,340.08C113.20,339.35 113.59,338.61 113.97,337.87C114.36,337.14 114.74,336.40 115.12,335.65C115.50,334.91 115.87,334.17 116.25,333.42C116.62,332.68 116.99,331.93 117.36,331.18C117.73,330.43 118.10,329.68 118.46,328.93C118.83,328.18 119.19,327.43 119.55,326.67C119.91,325.92 120.27,325.16 120.63,324.41C120.99,323.65 121.34,322.89 121.70,322.13C122.05,321.38 122.41,320.62 122.76,319.86C123.11,319.10 123.46,318.34 123.81,317.57C124.16,316.81 124.51,316.05 124.86,315.29C125.21,314.52 125.56,313.76 125.91,313.00C126.25,312.23 126.60,311.47 126.95,310.71C127.29,309.94 127.64,309.18 127.99,308.41C128.34,307.65 128.68,306.89 129.03,306.12C129.38,305.36 129.72,304.59 130.07,303.83C130.42,303.07 130.77,302.31 131.12,301.54C131.47,300.78 131.82,300.02 132.17,299.26C132.52,298.50 132.87,297.74 133.22,296.98C133.58,296.22 133.93,295.46 134.29,294.70C134.64,293.94 135.00,293.18 135.36,292.43C135.72,291.67 136.08,290.92 136.44,290.16C136.80,289.41 137.16,288.65 137.52,287.90C137.89,287.15 138.25,286.40 138.62,285.65C138.99,284.90 139.36,284.15 139.73,283.40C140.10,282.65 140.47,281.90 140.84,281.16C141.21,280.41 141.59,279.66 141.96,278.92C142.34,278.17 142.72,277.43 143.10,276.69C143.48,275.95 143.86,275.20 144.24,274.46C144.62,273.72 145.01,272.98 145.39,272.24C145.78,271.51 146.16,270.77 146.55,270.03C146.94,269.29 147.33,268.56 147.73,267.82C148.12,267.09 148.51,266.36 148.91,265.62C149.30,264.89 149.70,264.16 150.10,263.43C150.50,262.70 150.90,261.97 151.30,261.24C151.71,260.51 152.11,259.79 152.52,259.06C152.92,258.33 153.33,257.61 153.74,256.88C154.15,256.16 154.56,255.44 154.98,254.72C155.39,254.00 155.81,253.28 156.23,252.56C156.65,251.84 157.07,251.12 157.50,250.41C157.92,249.70 158.35,248.98 158.78,248.27C159.21,247.56 159.64,246.85 160.07,246.15C160.51,245.44 160.95,244.74 161.39,244.03C161.83,243.33 162.28,242.63 162.72,241.94C163.17,241.24 163.62,240.54 164.08,239.85C164.53,239.16 164.99,238.47 165.45,237.79C165.92,237.10 166.38,236.42 166.85,235.74C167.32,235.06 167.80,234.38 168.27,233.71C168.75,233.04 169.23,232.37 169.72,231.70C170.21,231.03 170.70,230.37 171.19,229.71C171.69,229.05 172.19,228.40 172.69,227.75C173.20,227.09 173.70,226.45 174.22,225.80C174.73,225.16 175.25,224.52 175.77,223.88C176.30,223.25 176.83,222.62 177.36,221.99C177.90,221.36 178.43,220.74 178.98,220.12C179.52,219.50 180.07,218.89 180.63,218.28C181.18,217.67 181.75,217.07 182.31,216.47C182.88,215.87 183.45,215.28 184.03,214.69C184.61,214.10 185.19,213.51 185.78,212.93C186.37,212.35 186.96,211.78 187.56,211.21C188.16,210.64 188.77,210.07 189.38,209.51C189.99,208.95 190.60,208.39 191.22,207.84C191.84,207.29 192.47,206.74 193.10,206.20C193.73,205.66 194.37,205.12 195.01,204.58C195.65,204.05 196.30,203.52 196.95,203.00C197.61,202.47 198.26,201.95 198.93,201.44C199.59,200.93 200.26,200.42 200.93,199.91C201.60,199.41 202.28,198.91 202.96,198.41C203.64,197.92 204.33,197.43 205.02,196.95C205.71,196.47 206.40,195.99 207.10,195.52C207.80,195.05 208.50,194.58 209.21,194.12C209.92,193.66 210.63,193.21 211.34,192.76C212.06,192.31 212.78,191.87 213.50,191.43C214.22,191.00 214.95,190.57 215.68,190.15C216.41,189.72 217.14,189.31 217.88,188.90C218.61,188.49 219.35,188.09 220.10,187.69C220.84,187.30 221.59,186.91 222.33,186.53C223.08,186.14 223.84,185.77 224.59,185.40C225.35,185.03 226.10,184.67 226.86,184.32C227.62,183.97 228.39,183.63 229.15,183.29C229.92,182.95 230.68,182.62 231.45,182.30C232.22,181.98 233.00,181.67 233.77,181.36C234.55,181.06 235.32,180.76 236.10,180.47C236.88,180.18 237.66,179.90 238.44,179.63C239.22,179.36 240.01,179.09 240.79,178.84C241.58,178.58 242.36,178.34 243.15,178.10C243.94,177.86 244.73,177.63 245.52,177.41C246.31,177.19 247.10,176.98 247.90,176.77C248.69,176.57 249.49,176.37 250.28,176.18C251.08,175.99 251.88,175.81 252.68,175.64C253.48,175.47 254.28,175.30 255.08,175.14C255.88,174.98 256.69,174.83 257.49,174.69C258.29,174.55 259.10,174.41 259.91,174.28C260.71,174.16 261.52,174.03 262.33,173.92C263.14,173.80 263.95,173.70 264.76,173.60C265.57,173.49 266.39,173.40 267.20,173.31C268.01,173.22 268.83,173.14 269.64,173.07C270.46,172.99 271.27,172.92 272.09,172.86C272.91,172.80 273.73,172.74 274.55,172.69C275.37,172.64 276.19,172.59 277.01,172.56C277.83,172.52 278.65,172.48 279.47,172.46C280.29,172.43 281.12,172.40 281.94,172.39C282.77,172.37 283.59,172.36 284.42,172.35C285.24,172.34 286.07,172.34 286.90,172.35C287.72,172.35 288.55,172.36 289.38,172.37C290.21,172.38 291.04,172.40 291.86,172.42C292.69,172.45 293.52,172.47 294.35,172.50C295.18,172.53 296.02,172.57 296.85,172.61C297.68,172.65 298.51,172.69 299.34,172.74C300.17,172.78 301.01,172.84 301.84,172.89C302.67,172.95 303.51,173.00 304.34,173.07C305.17,173.13 306.01,173.19 306.84,173.26C307.68,173.33 308.51,173.40 309.35,173.48C310.18,173.55 311.02,173.63 311.85,173.71C312.69,173.79 313.52,173.88 314.36,173.97C315.19,174.05 316.03,174.14 316.86,174.23C317.70,174.33 318.53,174.42 319.37,174.52C320.21,174.61 321.04,174.71 321.88,174.82C322.71,174.92 323.55,175.02 324.39,175.13C325.22,175.23 326.06,175.34 326.89,175.45C327.73,175.56 328.56,175.67 329.40,175.78C330.23,175.89 331.07,176.00 331.90,176.12C332.74,176.23 333.57,176.35 334.41,176.47C335.24,176.58 336.08,176.70 336.91,176.82C337.75,176.94 338.58,177.06 339.41,177.18C340.25,177.30 341.08,177.43 341.91,177.55C342.74,177.67 343.58,177.79 344.41,177.92C345.24,178.04 346.07,178.17 346.90,178.29C347.73,178.42 348.57,178.54 349.40,178.67C350.23,178.79 351.06,178.92 351.89,179.05C352.72,179.18 353.55,179.30 354.38,179.43C355.21,179.56 356.03,179.69 356.86,179.82C357.69,179.95 358.52,180.08 359.35,180.21C360.18,180.34 361.00,180.47 361.83,180.61C362.66,180.74 363.49,180.87 364.31,181.00C365.14,181.14 365.97,181.27 366.79,181.41C367.62,181.54 368.45,181.67 369.27,181.81C370.10,181.95 370.92,182.08 371.75,182.22C372.57,182.35 373.40,182.49 374.22,182.63C375.05,182.77 375.87,182.90 376.70,183.04C377.52,183.18 378.34,183.32 379.17,183.46C379.99,183.60 380.81,183.74 381.64,183.88C382.46,184.02 383.28,184.16 384.11,184.30C384.93,184.44 385.75,184.59 386.57,184.73C387.40,184.87 388.22,185.01 389.04,185.16C389.86,185.30 390.68,185.44 391.50,185.59C392.33,185.73 393.15,185.87 393.97,186.02C394.79,186.16 395.61,186.31 396.43,186.45C397.25,186.60 398.07,186.75 398.89,186.89C399.71,187.04 400.53,187.19 401.35,187.33C402.17,187.48 402.99,187.63 403.81,187.78C404.63,187.92 405.45,188.07 406.26,188.22C407.08,188.37 407.90,188.52 408.72,188.67C409.54,188.82 410.36,188.97 411.18,189.12C411.99,189.27 412.81,189.42 413.63,189.57C414.45,189.72 415.27,189.87 416.08,190.02C416.90,190.17 417.72,190.32 418.54,190.47C419.35,190.63 420.17,190.78 420.99,190.93C421.80,191.08 422.62,191.23 423.44,191.39C424.25,191.54 425.07,191.69 425.89,191.85C426.70,192.00 427.52,192.15 428.33,192.31C429.15,192.46 429.97,192.62 430.78,192.77C431.60,192.92 432.41,193.08 433.23,193.23C434.05,193.39 434.86,193.54 435.68,193.70C436.49,193.85 437.31,194.01 438.12,194.16C438.94,194.32 439.75,194.48 440.57,194.63C441.38,194.79 442.20,194.94 443.01,195.10C443.83,195.26 444.64,195.41 445.46,195.57C446.27,195.73 447.09,195.88 447.90,196.04C448.72,196.20 449.53,196.35 450.34,196.51C451.16,196.67 451.97,196.83 452.79,196.98C453.60,197.14 454.42,197.30 455.23,197.46C456.04,197.61 456.86,197.77 457.67,197.93C458.49,198.09 459.30,198.24 460.11,198.40C460.93,198.56 461.74,198.72 462.56,198.88C463.37,199.04 464.18,199.19 465.00,199.35C465.81,199.51 466.62,199.67 467.44,199.83C468.25,199.99 469.07,200.14 469.88,200.30C470.69,200.46 471.51,200.62 472.32,200.78C473.13,200.94 473.95,201.10 474.76,201.25C475.58,201.41 476.39,201.57 477.20,201.73C478.02,201.89 478.83,202.05 479.64,202.21C480.46,202.36 481.27,202.52 482.08,202.68C482.90,202.84 483.71,203.00 484.53,203.16C485.34,203.32 486.15,203.47 486.97,203.63C487.78,203.79 488.59,203.95 489.41,204.11C490.22,204.27 491.04,204.42 491.85,204.58C492.66,204.74 493.48,204.90 494.29,205.06C495.11,205.22 495.92,205.37 496.73,205.53C497.55,205.69 498.36,205.85 499.18,206.00C499.99,206.16 500.81,206.32 501.62,206.48C502.43,206.63 503.25,206.79 504.06,206.95C504.88,207.11 505.69,207.26 506.51,207.42C507.32,207.58 508.14,207.73 508.95,207.89C509.77,208.05 510.58,208.20 511.40,208.36C512.21,208.52 513.03,208.67 513.84,208.83C514.66,208.98 515.47,209.14 516.29,209.29C517.10,209.45 517.92,209.61 518.73,209.76C519.55,209.92 520.36,210.07 521.18,210.23C522.00,210.38 522.81,210.53 523.63,210.69C524.44,210.84 525.26,211.00 526.08,211.15C526.89,211.30 527.71,211.46 528.53,211.61C529.34,211.76 530.16,211.92 530.98,212.07C531.79,212.22 532.61,212.38 533.43,212.53C534.24,212.68 535.06,212.83 535.88,212.98C536.70,213.14 537.51,213.29 538.33,213.44C539.15,213.59 539.97,213.74 540.79,213.89C541.60,214.04 542.42,214.19 543.24,214.34C544.06,214.49 544.88,214.64 545.70,214.79C546.52,214.94 547.33,215.09 548.15,215.24C548.97,215.38 549.79,215.53 550.61,215.68C551.43,215.83 552.25,215.97 553.07,216.12C553.89,216.27 554.71,216.42 555.53,216.56C556.35,216.71 557.17,216.85 557.99,217.00C558.81,217.14 559.63,217.29 560.46,217.43C561.28,217.58 562.10,217.72 562.92,217.87C563.74,218.01 564.56,218.15 565.39,218.30C566.21,218.44 567.03,218.58 567.85,218.72C568.68,218.87 569.50,219.01 570.32,219.15C571.14,219.29 571.97,219.43 572.79,219.57C573.61,219.71 574.44,219.85 575.26,219.99C576.09,220.13 576.91,220.27 577.74,220.41C578.56,220.55 579.39,220.68 580.21,220.82C581.04,220.96 581.86,221.10 582.69,221.23C583.51,221.37 584.34,221.50 585.16,221.64C585.99,221.77 586.82,221.91 587.64,222.04C588.47,222.18 589.30,222.31 590.13,222.44C590.95,222.58 591.78,222.71 592.61,222.84C593.44,222.97 594.26,223.11 595.09,223.24C595.92,223.37 596.75,223.50 597.58,223.63C598.41,223.76 599.24,223.89 600.07,224.01C600.90,224.14 601.73,224.27 602.56,224.40C603.39,224.52 604.22,224.65 605.05,224.78C605.88,224.90 606.71,225.03 607.55,225.15C608.38,225.28 609.21,225.40 610.04,225.53C610.87,225.65 611.71,225.77 612.54,225.89C613.37,226.02 614.06,226.12 615.04,226.26C616.02,226.40 617.85,226.66 618.41,226.74" fill="none" stroke="#ff8000" stroke-width="2.95" stroke-linejoin="round"/>
<path d="M45.70,412.50C46.08,412.36 47.20,411.93 47.96,411.66C48.73,411.39 49.50,411.14 50.29,410.90C51.07,410.65 51.86,410.42 52.66,410.19C53.46,409.97 54.27,409.75 55.08,409.54C55.89,409.33 56.71,409.12 57.53,408.92C58.36,408.71 59.18,408.51 60.01,408.31C60.84,408.11 61.67,407.91 62.49,407.71C63.32,407.50 64.15,407.30 64.98,407.09C65.81,406.88 66.63,406.67 67.45,406.45C68.28,406.22 69.10,406.00 69.91,405.76C70.72,405.52 71.53,405.28 72.33,405.02C73.13,404.76 73.93,404.49 74.71,404.20C75.50,403.91 76.28,403.61 77.04,403.30C77.81,402.98 78.57,402.64 79.31,402.29C80.05,401.94 80.79,401.57 81.51,401.18C82.23,400.79 82.94,400.39 83.64,399.96C84.34,399.54 85.03,399.10 85.71,398.65C86.39,398.20 87.06,397.73 87.72,397.25C88.38,396.76 89.02,396.27 89.66,395.76C90.30,395.24 90.93,394.72 91.55,394.18C92.17,393.64 92.77,393.09 93.37,392.53C93.97,391.97 94.56,391.39 95.14,390.81C95.72,390.22 96.29,389.62 96.86,389.01C97.42,388.41 97.97,387.79 98.52,387.16C99.06,386.53 99.60,385.90 100.12,385.25C100.65,384.61 101.17,383.95 101.68,383.29C102.19,382.63 102.69,381.96 103.19,381.28C103.68,380.60 104.17,379.92 104.65,379.23C105.13,378.54 105.60,377.84 106.06,377.14C106.53,376.44 106.98,375.73 107.43,375.02C107.88,374.31 108.32,373.60 108.76,372.88C109.19,372.16 109.62,371.44 110.04,370.71C110.46,369.99 110.88,369.26 111.29,368.53C111.70,367.80 112.10,367.06 112.49,366.33C112.89,365.59 113.28,364.85 113.66,364.11C114.05,363.37 114.43,362.62 114.80,361.88C115.18,361.13 115.54,360.38 115.91,359.63C116.27,358.88 116.63,358.13 116.98,357.38C117.34,356.62 117.69,355.87 118.03,355.11C118.38,354.35 118.72,353.59 119.06,352.83C119.40,352.07 119.73,351.31 120.06,350.55C120.39,349.78 120.72,349.02 121.04,348.25C121.36,347.48 121.68,346.71 122.00,345.95C122.32,345.18 122.63,344.41 122.95,343.64C123.26,342.86 123.57,342.09 123.88,341.32C124.19,340.55 124.49,339.77 124.80,339.00C125.10,338.23 125.40,337.45 125.71,336.68C126.01,335.90 126.31,335.12 126.61,334.35C126.91,333.57 127.20,332.80 127.50,332.02C127.80,331.24 128.10,330.47 128.39,329.69C128.69,328.91 128.99,328.14 129.28,327.36C129.58,326.59 129.88,325.81 130.17,325.03C130.47,324.26 130.77,323.48 131.07,322.71C131.37,321.93 131.67,321.16 131.97,320.39C132.27,319.61 132.57,318.84 132.87,318.07C133.17,317.29 133.47,316.52 133.78,315.75C134.08,314.98 134.38,314.21 134.69,313.43C134.99,312.66 135.30,311.89 135.60,311.12C135.91,310.35 136.22,309.58 136.53,308.81C136.83,308.04 137.14,307.27 137.45,306.51C137.76,305.74 138.07,304.97 138.38,304.20C138.69,303.43 139.00,302.66 139.31,301.90C139.62,301.13 139.94,300.36 140.25,299.59C140.56,298.83 140.87,298.06 141.19,297.29C141.50,296.53 141.82,295.76 142.13,294.99C142.44,294.23 142.76,293.46 143.08,292.70C143.39,291.93 143.71,291.16 144.02,290.40C144.34,289.63 144.66,288.87 144.98,288.10C145.29,287.33 145.61,286.57 145.93,285.80C146.25,285.04 146.57,284.27 146.88,283.51C147.20,282.74 147.52,281.98 147.84,281.21C148.16,280.44 148.48,279.68 148.80,278.91C149.12,278.15 149.44,277.38 149.76,276.62C150.09,275.85 150.41,275.08 150.73,274.32C151.05,273.55 151.37,272.79 151.69,272.02C152.01,271.25 152.34,270.49 152.66,269.72C152.98,268.95 153.30,268.19 153.63,267.42C153.95,266.65 154.27,265.89 154.59,265.12C154.92,264.35 155.24,263.58 155.56,262.82C155.89,262.05 156.21,261.28 156.53,260.51C156.86,259.74 157.18,258.98 157.51,258.21C157.83,257.44 158.16,256.67 158.48,255.91C158.81,255.14 159.14,254.37 159.47,253.61C159.80,252.84 160.13,252.07 160.46,251.31C160.79,250.54 161.12,249.78 161.46,249.02C161.79,248.25 162.13,247.49 162.46,246.73C162.80,245.97 163.14,245.20 163.48,244.44C163.82,243.68 164.17,242.92 164.51,242.17C164.86,241.41 165.21,240.65 165.56,239.90C165.91,239.14 166.26,238.39 166.61,237.64C166.97,236.89 167.32,236.13 167.69,235.39C168.05,234.64 168.41,233.89 168.77,233.14C169.14,232.40 169.51,231.66 169.88,230.91C170.25,230.17 170.63,229.43 171.01,228.70C171.39,227.96 171.77,227.22 172.16,226.49C172.54,225.76 172.93,225.03 173.33,224.30C173.72,223.57 174.12,222.84 174.52,222.12C174.92,221.40 175.33,220.68 175.73,219.96C176.14,219.24 176.56,218.53 176.98,217.82C177.40,217.10 177.82,216.39 178.25,215.69C178.67,214.98 179.11,214.28 179.54,213.58C179.98,212.88 180.42,212.18 180.87,211.49C181.32,210.80 181.77,210.11 182.22,209.42C182.68,208.73 183.13,208.04 183.59,207.35C184.04,206.66 184.50,205.97 184.95,205.28C185.40,204.59 185.85,203.89 186.29,203.19C186.73,202.49 187.17,201.79 187.60,201.08C188.04,200.38 188.47,199.67 188.90,198.96C189.33,198.25 189.76,197.54 190.19,196.83C190.62,196.12 191.05,195.41 191.48,194.69C191.91,193.98 192.34,193.27 192.77,192.56C193.20,191.85 193.63,191.14 194.07,190.43C194.51,189.72 194.95,189.01 195.39,188.31C195.84,187.60 196.29,186.90 196.74,186.20C197.20,185.50 197.66,184.81 198.12,184.12C198.59,183.42 199.05,182.73 199.53,182.05C200.00,181.36 200.48,180.68 200.96,180.00C201.45,179.31 201.94,178.64 202.43,177.96C202.92,177.29 203.42,176.62 203.92,175.95C204.42,175.28 204.93,174.62 205.44,173.96C205.95,173.30 206.47,172.64 206.99,171.99C207.51,171.33 208.03,170.68 208.56,170.04C209.09,169.39 209.62,168.75 210.16,168.11C210.70,167.47 211.24,166.83 211.79,166.20C212.34,165.57 212.89,164.94 213.44,164.32C214.00,163.69 214.56,163.07 215.12,162.46C215.69,161.84 216.25,161.23 216.83,160.62C217.40,160.01 217.98,159.40 218.56,158.80C219.14,158.20 219.72,157.61 220.31,157.02C220.90,156.42 221.49,155.84 222.09,155.25C222.69,154.67 223.29,154.09 223.89,153.52C224.50,152.94 225.11,152.37 225.72,151.80C226.33,151.24 226.95,150.68 227.57,150.12C228.19,149.56 228.82,149.01 229.44,148.46C230.07,147.91 230.71,147.37 231.34,146.83C231.98,146.29 232.62,145.76 233.26,145.23C233.90,144.70 234.55,144.18 235.20,143.66C235.85,143.14 236.51,142.63 237.17,142.12C237.82,141.61 238.49,141.10 239.15,140.60C239.82,140.10 240.48,139.61 241.16,139.12C241.83,138.63 242.50,138.15 243.18,137.67C243.86,137.19 244.55,136.72 245.23,136.25C245.92,135.78 246.61,135.32 247.30,134.86C247.99,134.40 248.69,133.95 249.39,133.50C250.09,133.06 250.79,132.62 251.50,132.18C252.20,131.75 252.91,131.32 253.63,130.89C254.34,130.47 255.05,130.05 255.77,129.64C256.49,129.22 257.21,128.82 257.94,128.42C258.66,128.01 259.39,127.62 260.12,127.23C260.85,126.84 261.59,126.46 262.32,126.08C263.06,125.70 263.80,125.33 264.54,124.96C265.29,124.60 266.03,124.24 266.78,123.89C267.53,123.53 268.28,123.19 269.04,122.85C269.79,122.50 270.55,122.17 271.31,121.84C272.07,121.51 272.83,121.19 273.60,120.88C274.36,120.56 275.13,120.25 275.90,119.95C276.67,119.65 277.44,119.35 278.22,119.06C279.00,118.77 279.78,118.49 280.56,118.22C281.34,117.94 282.12,117.67 282.91,117.41C283.69,117.15 284.48,116.89 285.27,116.64C286.07,116.39 286.86,116.15 287.66,115.91C288.45,115.68 289.25,115.45 290.05,115.23C290.85,115.01 291.65,114.79 292.46,114.58C293.26,114.37 294.07,114.17 294.88,113.97C295.69,113.77 296.50,113.58 297.31,113.40C298.12,113.21 298.94,113.03 299.75,112.86C300.57,112.68 301.39,112.52 302.21,112.35C303.02,112.19 303.85,112.03 304.67,111.88C305.49,111.73 306.31,111.58 307.14,111.44C307.96,111.30 308.79,111.16 309.62,111.03C310.44,110.90 311.27,110.77 312.10,110.65C312.93,110.53 313.76,110.41 314.60,110.30C315.43,110.19 316.26,110.08 317.09,109.98C317.93,109.87 318.76,109.78 319.60,109.68C320.43,109.59 321.27,109.49 322.10,109.41C322.94,109.32 323.78,109.24 324.61,109.16C325.45,109.08 326.29,109.01 327.13,108.93C327.96,108.86 328.80,108.79 329.64,108.73C330.48,108.67 331.32,108.60 332.16,108.55C333.00,108.49 333.84,108.43 334.67,108.38C335.51,108.33 336.35,108.28 337.19,108.24C338.03,108.19 338.87,108.15 339.71,108.11C340.54,108.07 341.38,108.03 342.22,108.00C343.06,107.96 343.90,107.93 344.73,107.90C345.57,107.87 346.41,107.84 347.24,107.82C348.08,107.79 348.91,107.77 349.75,107.75C350.59,107.73 351.42,107.71 352.26,107.70C353.09,107.68 353.93,107.67 354.76,107.66C355.60,107.65 356.43,107.64 357.27,107.64C358.10,107.63 358.93,107.63 359.77,107.63C360.60,107.63 361.44,107.63 362.27,107.63C363.10,107.63 363.93,107.64 364.77,107.65C365.60,107.65 366.43,107.66 367.27,107.68C368.10,107.69 368.93,107.70 369.76,107.72C370.59,107.73 371.43,107.75 372.26,107.77C373.09,107.79 373.92,107.81 374.75,107.83C375.58,107.86 376.41,107.88 377.24,107.91C378.08,107.94 378.91,107.97 379.74,108.00C380.57,108.03 381.40,108.06 382.23,108.09C383.06,108.13 383.89,108.16 384.72,108.20C385.55,108.24 386.38,108.28 387.21,108.32C388.04,108.36 388.87,108.40 389.69,108.45C390.52,108.49 391.35,108.54 392.18,108.58C393.01,108.63 393.84,108.68 394.67,108.73C395.50,108.78 396.33,108.83 397.15,108.88C397.98,108.94 398.81,108.99 399.64,109.05C400.47,109.10 401.30,109.16 402.13,109.22C402.95,109.28 403.78,109.33 404.61,109.40C405.44,109.46 406.27,109.52 407.09,109.58C407.92,109.64 408.75,109.71 409.58,109.77C410.40,109.84 411.23,109.91 412.06,109.97C412.89,110.04 413.71,110.11 414.54,110.18C415.37,110.25 416.20,110.32 417.02,110.39C417.85,110.46 418.68,110.54 419.51,110.61C420.33,110.68 421.16,110.76 421.99,110.83C422.82,110.91 423.64,110.98 424.47,111.06C425.30,111.14 426.13,111.21 426.95,111.29C427.78,111.37 428.61,111.45 429.44,111.53C430.26,111.61 431.09,111.69 431.92,111.77C432.75,111.85 433.57,111.93 434.40,112.01C435.23,112.10 436.06,112.18 436.88,112.26C437.71,112.35 438.54,112.43 439.37,112.51C440.19,112.60 441.02,112.68 441.85,112.77C442.68,112.85 443.50,112.94 444.33,113.02C445.16,113.11 445.99,113.20 446.82,113.28C447.64,113.37 448.47,113.46 449.30,113.54C450.13,113.63 450.96,113.72 451.78,113.81C452.61,113.90 453.44,113.99 454.27,114.07C455.10,114.16 455.93,114.25 456.75,114.34C457.58,114.43 458.41,114.52 459.24,114.61C460.07,114.70 460.90,114.80 461.72,114.89C462.55,114.98 463.38,115.07 464.21,115.16C465.04,115.25 465.87,115.35 466.69,115.44C467.52,115.53 468.35,115.63 469.18,115.72C470.01,115.81 470.84,115.91 471.67,116.00C472.49,116.09 473.32,116.19 474.15,116.28C474.98,116.38 475.81,116.47 476.64,116.57C477.47,116.66 478.30,116.76 479.12,116.86C479.95,116.95 480.78,117.05 481.61,117.15C482.44,117.24 483.27,117.34 484.10,117.44C484.93,117.53 485.75,117.63 486.58,117.73C487.41,117.83 488.24,117.92 489.07,118.02C489.90,118.12 490.73,118.22 491.56,118.32C492.39,118.42 493.21,118.52 494.04,118.62C494.87,118.71 495.70,118.81 496.53,118.91C497.36,119.01 498.19,119.11 499.02,119.21C499.85,119.31 500.67,119.41 501.50,119.51C502.33,119.62 503.16,119.72 503.99,119.82C504.82,119.92 505.65,120.02 506.48,120.12C507.31,120.22 508.13,120.32 508.96,120.43C509.79,120.53 510.62,120.63 511.45,120.73C512.28,120.83 513.11,120.94 513.94,121.04C514.76,121.14 515.59,121.25 516.42,121.35C517.25,121.45 518.08,121.55 518.91,121.66C519.74,121.76 520.57,121.86 521.39,121.97C522.22,122.07 523.05,122.17 523.88,122.28C524.71,122.38 525.54,122.49 526.37,122.59C527.19,122.69 528.02,122.80 528.85,122.90C529.68,123.01 530.51,123.11 531.34,123.22C532.16,123.32 532.99,123.43 533.82,123.53C534.65,123.64 535.48,123.74 536.31,123.85C537.13,123.95 537.96,124.06 538.79,124.16C539.62,124.27 540.45,124.37 541.28,124.48C542.10,124.58 542.93,124.69 543.76,124.79C544.59,124.90 545.42,125.00 546.24,125.11C547.07,125.21 547.90,125.32 548.73,125.43C549.56,125.53 550.38,125.64 551.21,125.74C552.04,125.85 552.87,125.95 553.69,126.06C554.52,126.17 555.35,126.27 556.18,126.38C557.00,126.48 557.83,126.59 558.66,126.69C559.49,126.80 560.31,126.91 561.14,127.01C561.97,127.12 562.80,127.22 563.62,127.33C564.45,127.44 565.28,127.54 566.10,127.65C566.93,127.75 567.76,127.86 568.59,127.97C569.41,128.07 570.24,128.18 571.07,128.28C571.89,128.39 572.72,128.49 573.55,128.60C574.37,128.71 575.20,128.81 576.03,128.92C576.85,129.02 577.68,129.13 578.50,129.23C579.33,129.34 580.16,129.44 580.98,129.55C581.81,129.65 582.64,129.76 583.46,129.87C584.29,129.97 585.11,130.08 585.94,130.18C586.77,130.29 587.59,130.39 588.42,130.50C589.24,130.60 590.07,130.70 590.89,130.81C591.72,130.91 592.54,131.02 593.37,131.12C594.20,131.23 595.02,131.33 595.85,131.44C596.67,131.54 597.50,131.64 598.32,131.75C599.15,131.85 599.97,131.96 600.80,132.06C601.62,132.16 602.44,132.27 603.27,132.37C604.09,132.47 604.92,132.58 605.74,132.68C606.57,132.78 607.39,132.89 608.22,132.99C609.04,133.09 609.86,133.19 610.69,133.30C611.51,133.40 612.34,133.50 613.16,133.60C613.98,133.70 614.76,133.80 615.63,133.91C616.50,134.01 617.94,134.19 618.40,134.25" fill="none" stroke="#ffff00" stroke-width="2.95" stroke-linejoin="round"/>
<path d="M33.9,403.5H629M46.35,90.6V432.6M74.88,403.5v-3.5M103.41,403.5v-3.5M131.94,403.5v-3.5M160.47,403.5v-6.4M189.00,403.5v-3.5M217.53,403.5v-3.5M246.06,403.5v-3.5M274.59,403.5v-6.4M303.12,403.5v-3.5M331.65,403.5v-3.5M360.18,403.5v-3.5M388.71,403.5v-6.4M417.24,403.5v-3.5M445.77,403.5v-3.5M474.30,403.5v-3.5M502.83,403.5v-6.4M531.36,403.5v-3.5M559.89,403.5v-3.5M588.42,403.5v-3.5M616.95,403.5v-6.4M46.35,427.18h4.3M46.35,415.34h4.3M46.35,391.66h4.3M46.35,379.82h4.3M46.35,367.98h4.3M46.35,356.14h4.3M46.35,344.30h6.6M46.35,332.46h4.3M46.35,320.62h4.3M46.35,308.78h4.3M46.35,296.94h4.3M46.35,285.10h6.6M46.35,273.26h4.3M46.35,261.42h4.3M46.35,249.58h4.3M46.35,237.74h4.3M46.35,225.90h6.6M46.35,214.06h4.3M46.35,202.22h4.3M46.35,190.38h4.3M46.35,178.54h4.3M46.35,166.70h6.6M46.35,154.86h4.3M46.35,143.02h4.3M46.35,131.18h4.3M46.35,119.34h4.3M46.35,107.50h6.6M46.35,95.66h4.3" fill="none" stroke="#000" stroke-width="1.0"/>
<path d="M17,26.1h36.5" stroke="#ff0000" stroke-width="2.8" fill="none"/>
<path d="M149.5,26.1h36.5" stroke="#0000ff" stroke-width="2.8" fill="none"/>
<path d="M282,26.1h36.5" stroke="#00ff00" stroke-width="2.8" fill="none"/>
<path d="M414.8,26.1h36.5" stroke="#ff8000" stroke-width="2.8" fill="none"/>
<path d="M548,26.1h36.5" stroke="#ffff00" stroke-width="2.8" fill="none"/>
<g class="t">
<text class="tk" x="160.54" y="420.5" font-size="15.9" text-anchor="middle" letter-spacing="0.75">20</text>
<text class="tk" x="274.67" y="420.5" font-size="15.9" text-anchor="middle" letter-spacing="0.75">40</text>
<text class="tk" x="388.79" y="420.5" font-size="15.9" text-anchor="middle" letter-spacing="0.75">60</text>
<text class="tk" x="502.91" y="420.5" font-size="15.9" text-anchor="middle" letter-spacing="0.75">80</text>
<text class="tk" x="617.10" y="420.5" font-size="15.9" text-anchor="middle" letter-spacing="0.3">100</text>
<text class="tk" x="41.1" y="349.50" font-size="15.9" text-anchor="end" letter-spacing="0.28">0.001</text>
<text class="tk" x="41.1" y="290.30" font-size="15.9" text-anchor="end" letter-spacing="0.28">0.002</text>
<text class="tk" x="41.1" y="231.10" font-size="15.9" text-anchor="end" letter-spacing="0.28">0.003</text>
<text class="tk" x="41.1" y="171.90" font-size="15.9" text-anchor="end" letter-spacing="0.28">0.004</text>
<text class="tk" x="41.1" y="112.70" font-size="15.9" text-anchor="end" letter-spacing="0.28">0.005</text>
<text x="642.9" y="408.5" font-size="16.2">L</text>
<text transform="translate(25.8,77.8) scale(1.1,1)" font-size="14.9" font-style="italic">λ</text>
<text x="34.1" y="72.4" font-size="11.2">2</text>
<text x="41.2" y="78.6" font-size="15">−</text>
<text transform="translate(51.3,77.8) scale(1.3,1)" font-size="13" font-style="italic">κ</text>
<text x="60.6" y="72.4" font-size="11.2">2</text>
<text class="lg" x="66.1" y="32" font-size="22.8" letter-spacing="0.55">a=1.0</text>
<text class="lg" x="198.6" y="32" font-size="22.8" letter-spacing="0.55">a=0.8</text>
<text class="lg" x="331.1" y="32" font-size="22.8" letter-spacing="0.55">a=0.6</text>
<text class="lg" x="463.90000000000003" y="32" font-size="22.8" letter-spacing="0.55">a=0.3</text>
<text class="lg" x="597.1" y="32" font-size="22.8" letter-spacing="0.55">a=0</text>
</g>
</svg>
</body></html>
